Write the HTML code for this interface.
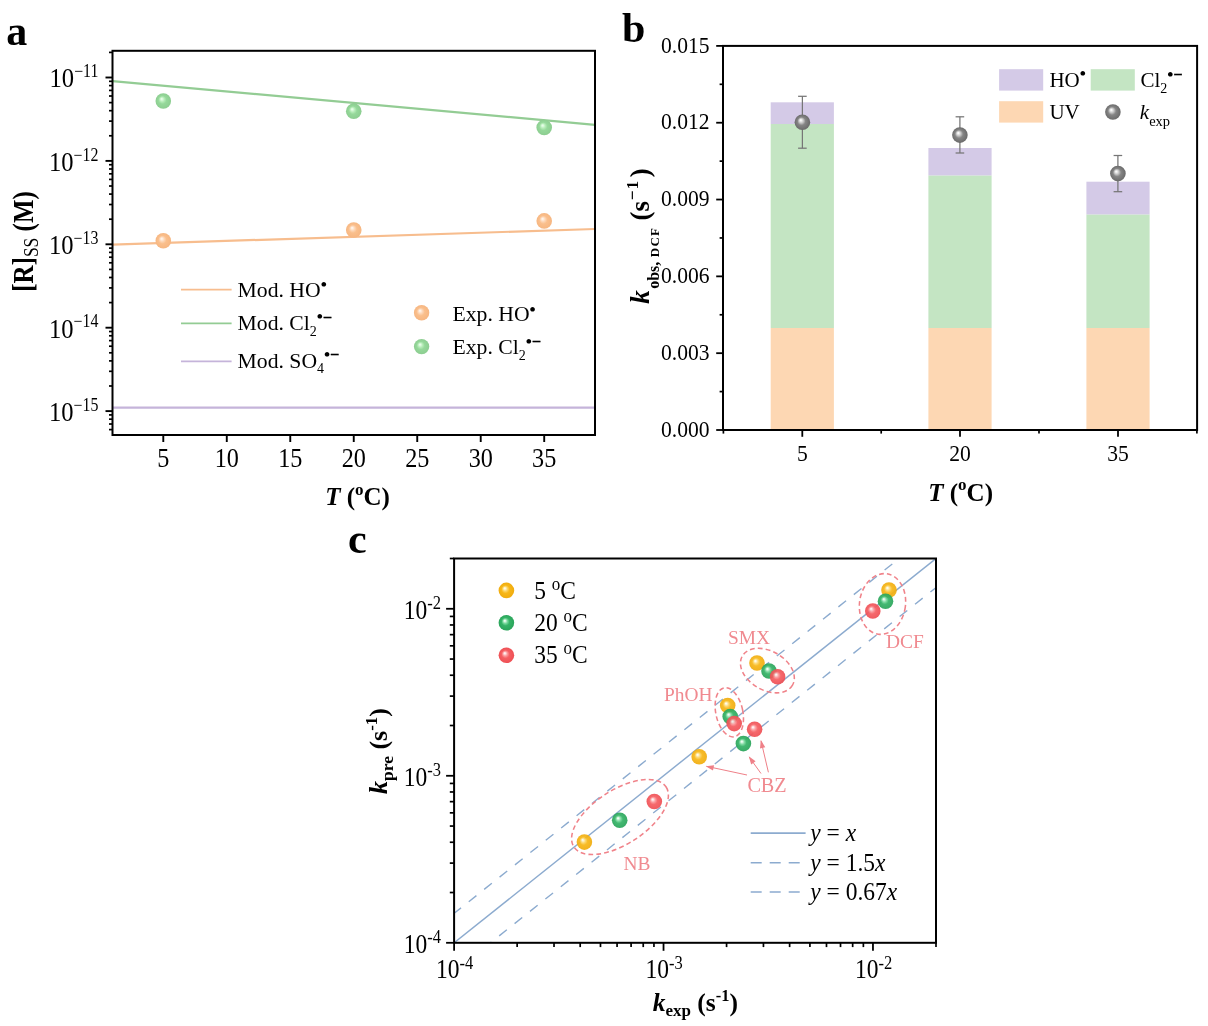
<!DOCTYPE html>
<html lang="en"><head><meta charset="utf-8"><title>Figure</title>
<style>html,body{margin:0;padding:0;background:#fff;}body{width:1208px;height:1026px;overflow:hidden;}svg{display:block;}text{font-family:'Liberation Serif', 'DejaVu Serif', serif;}</style>
</head><body>
<svg width="1208" height="1026" viewBox="0 0 1208 1026">
<rect x="0" y="0" width="1208" height="1026" fill="#ffffff"/>
<defs>
<radialGradient id="gA_o" cx="0.5" cy="0.5" r="0.5" fx="0.385" fy="0.355"><stop offset="0" stop-color="#fff4ea"/><stop offset="0.07" stop-color="#fff4ea"/><stop offset="0.30" stop-color="#fdd6b6"/><stop offset="0.52" stop-color="#fabf8c"/><stop offset="1" stop-color="#f6b681"/></radialGradient>
<radialGradient id="gA_g" cx="0.5" cy="0.5" r="0.5" fx="0.385" fy="0.355"><stop offset="0" stop-color="#e6fde8"/><stop offset="0.07" stop-color="#e6fde8"/><stop offset="0.30" stop-color="#b6ecb8"/><stop offset="0.52" stop-color="#95d89a"/><stop offset="1" stop-color="#8ccd90"/></radialGradient>
<radialGradient id="gB_k" cx="0.5" cy="0.5" r="0.5" fx="0.385" fy="0.355"><stop offset="0" stop-color="#fafafa"/><stop offset="0.07" stop-color="#fafafa"/><stop offset="0.30" stop-color="#c4c4c4"/><stop offset="0.52" stop-color="#858585"/><stop offset="1" stop-color="#6a6a6a"/></radialGradient>
<radialGradient id="gC_y" cx="0.5" cy="0.5" r="0.5" fx="0.385" fy="0.355"><stop offset="0" stop-color="#fffbe8"/><stop offset="0.07" stop-color="#fffbe8"/><stop offset="0.30" stop-color="#fcd566"/><stop offset="0.52" stop-color="#f7b718"/><stop offset="1" stop-color="#f0ac0e"/></radialGradient>
<radialGradient id="gC_g" cx="0.5" cy="0.5" r="0.5" fx="0.385" fy="0.355"><stop offset="0" stop-color="#effdf3"/><stop offset="0.07" stop-color="#effdf3"/><stop offset="0.30" stop-color="#78d89c"/><stop offset="0.52" stop-color="#35b367"/><stop offset="1" stop-color="#2aa45a"/></radialGradient>
<radialGradient id="gC_r" cx="0.5" cy="0.5" r="0.5" fx="0.385" fy="0.355"><stop offset="0" stop-color="#fff0f0"/><stop offset="0.07" stop-color="#fff0f0"/><stop offset="0.30" stop-color="#fb979a"/><stop offset="0.52" stop-color="#f55e62"/><stop offset="1" stop-color="#ee4f54"/></radialGradient>
<clipPath id="clipA"><rect x="112.5" y="50.8" width="483.2" height="384.2"/></clipPath>
<clipPath id="clipC"><rect x="454.1" y="558.5" width="481.9" height="384.3"/></clipPath>
<marker id="arr" viewBox="0 0 10 8" refX="9" refY="4" markerWidth="11" markerHeight="6.4" orient="auto" markerUnits="userSpaceOnUse"><path d="M0,0.6 L10,4 L0,7.4 Z" fill="#ef8088"/></marker>
</defs>
<g id="panelA">
<text x="6.3" y="44.9" font-size="42" text-anchor="start" font-weight="bold" font-style="normal" fill="#000" >a</text>
<g clip-path="url(#clipA)">
<line x1="112.5" y1="81.1" x2="595" y2="124.8" stroke="#93cc94" stroke-width="2.2" />
<line x1="112.5" y1="244.6" x2="595" y2="229" stroke="#f7bd8e" stroke-width="2.2" />
<line x1="112.5" y1="407.6" x2="595" y2="407.6" stroke="#c5b4da" stroke-width="2.2" />
</g>
<circle cx="163.29" cy="101" r="7.8" fill="url(#gA_g)"/>
<circle cx="353.75" cy="111.3" r="7.8" fill="url(#gA_g)"/>
<circle cx="544.21" cy="127.5" r="7.8" fill="url(#gA_g)"/>
<circle cx="163.29" cy="240.8" r="7.8" fill="url(#gA_o)"/>
<circle cx="353.75" cy="230" r="7.8" fill="url(#gA_o)"/>
<circle cx="544.21" cy="220.9" r="7.8" fill="url(#gA_o)"/>
<rect x="112.5" y="50.8" width="482.5" height="384.2" fill="none" stroke="#000" stroke-width="2"/>
<line x1="109" y1="429.6" x2="112.5" y2="429.6" stroke="#000" stroke-width="1.7" />
<line x1="109" y1="424.02" x2="112.5" y2="424.02" stroke="#000" stroke-width="1.7" />
<line x1="109" y1="419.18" x2="112.5" y2="419.18" stroke="#000" stroke-width="1.7" />
<line x1="109" y1="414.92" x2="112.5" y2="414.92" stroke="#000" stroke-width="1.7" />
<line x1="105.5" y1="411.1" x2="112.5" y2="411.1" stroke="#000" stroke-width="1.9" />
<line x1="109" y1="385.99" x2="112.5" y2="385.99" stroke="#000" stroke-width="1.7" />
<line x1="109" y1="371.31" x2="112.5" y2="371.31" stroke="#000" stroke-width="1.7" />
<line x1="109" y1="360.89" x2="112.5" y2="360.89" stroke="#000" stroke-width="1.7" />
<line x1="109" y1="352.81" x2="112.5" y2="352.81" stroke="#000" stroke-width="1.7" />
<line x1="109" y1="346.2" x2="112.5" y2="346.2" stroke="#000" stroke-width="1.7" />
<line x1="109" y1="340.62" x2="112.5" y2="340.62" stroke="#000" stroke-width="1.7" />
<line x1="109" y1="335.78" x2="112.5" y2="335.78" stroke="#000" stroke-width="1.7" />
<line x1="109" y1="331.52" x2="112.5" y2="331.52" stroke="#000" stroke-width="1.7" />
<line x1="105.5" y1="327.7" x2="112.5" y2="327.7" stroke="#000" stroke-width="1.9" />
<line x1="109" y1="302.59" x2="112.5" y2="302.59" stroke="#000" stroke-width="1.7" />
<line x1="109" y1="287.91" x2="112.5" y2="287.91" stroke="#000" stroke-width="1.7" />
<line x1="109" y1="277.49" x2="112.5" y2="277.49" stroke="#000" stroke-width="1.7" />
<line x1="109" y1="269.41" x2="112.5" y2="269.41" stroke="#000" stroke-width="1.7" />
<line x1="109" y1="262.8" x2="112.5" y2="262.8" stroke="#000" stroke-width="1.7" />
<line x1="109" y1="257.22" x2="112.5" y2="257.22" stroke="#000" stroke-width="1.7" />
<line x1="109" y1="252.38" x2="112.5" y2="252.38" stroke="#000" stroke-width="1.7" />
<line x1="109" y1="248.12" x2="112.5" y2="248.12" stroke="#000" stroke-width="1.7" />
<line x1="105.5" y1="244.3" x2="112.5" y2="244.3" stroke="#000" stroke-width="1.9" />
<line x1="109" y1="219.19" x2="112.5" y2="219.19" stroke="#000" stroke-width="1.7" />
<line x1="109" y1="204.51" x2="112.5" y2="204.51" stroke="#000" stroke-width="1.7" />
<line x1="109" y1="194.09" x2="112.5" y2="194.09" stroke="#000" stroke-width="1.7" />
<line x1="109" y1="186.01" x2="112.5" y2="186.01" stroke="#000" stroke-width="1.7" />
<line x1="109" y1="179.4" x2="112.5" y2="179.4" stroke="#000" stroke-width="1.7" />
<line x1="109" y1="173.82" x2="112.5" y2="173.82" stroke="#000" stroke-width="1.7" />
<line x1="109" y1="168.98" x2="112.5" y2="168.98" stroke="#000" stroke-width="1.7" />
<line x1="109" y1="164.72" x2="112.5" y2="164.72" stroke="#000" stroke-width="1.7" />
<line x1="105.5" y1="160.9" x2="112.5" y2="160.9" stroke="#000" stroke-width="1.9" />
<line x1="109" y1="135.79" x2="112.5" y2="135.79" stroke="#000" stroke-width="1.7" />
<line x1="109" y1="121.11" x2="112.5" y2="121.11" stroke="#000" stroke-width="1.7" />
<line x1="109" y1="110.69" x2="112.5" y2="110.69" stroke="#000" stroke-width="1.7" />
<line x1="109" y1="102.61" x2="112.5" y2="102.61" stroke="#000" stroke-width="1.7" />
<line x1="109" y1="96" x2="112.5" y2="96" stroke="#000" stroke-width="1.7" />
<line x1="109" y1="90.42" x2="112.5" y2="90.42" stroke="#000" stroke-width="1.7" />
<line x1="109" y1="85.58" x2="112.5" y2="85.58" stroke="#000" stroke-width="1.7" />
<line x1="109" y1="81.32" x2="112.5" y2="81.32" stroke="#000" stroke-width="1.7" />
<line x1="105.5" y1="77.5" x2="112.5" y2="77.5" stroke="#000" stroke-width="1.9" />
<line x1="109" y1="52.39" x2="112.5" y2="52.39" stroke="#000" stroke-width="1.7" />
<text transform="translate(98.4,420.9) scale(1.000,1.120)" font-size="24.6" text-anchor="end" font-weight="normal" font-style="normal" fill="#000" >10<tspan font-size="15.9" dy="-9" >&#8722;15</tspan></text>
<text transform="translate(98.4,337.5) scale(1.000,1.120)" font-size="24.6" text-anchor="end" font-weight="normal" font-style="normal" fill="#000" >10<tspan font-size="15.9" dy="-9" >&#8722;14</tspan></text>
<text transform="translate(98.4,254.1) scale(1.000,1.120)" font-size="24.6" text-anchor="end" font-weight="normal" font-style="normal" fill="#000" >10<tspan font-size="15.9" dy="-9" >&#8722;13</tspan></text>
<text transform="translate(98.4,170.7) scale(1.000,1.120)" font-size="24.6" text-anchor="end" font-weight="normal" font-style="normal" fill="#000" >10<tspan font-size="15.9" dy="-9" >&#8722;12</tspan></text>
<text transform="translate(98.4,87.3) scale(1.000,1.120)" font-size="24.6" text-anchor="end" font-weight="normal" font-style="normal" fill="#000" >10<tspan font-size="15.9" dy="-9" >&#8722;11</tspan></text>
<line x1="163.29" y1="435" x2="163.29" y2="442" stroke="#000" stroke-width="1.9" />
<text transform="translate(163.29,467.2) scale(1.000,1.140)" font-size="24.2" text-anchor="middle" font-weight="normal" font-style="normal" fill="#000" >5</text>
<line x1="226.78" y1="435" x2="226.78" y2="442" stroke="#000" stroke-width="1.9" />
<text transform="translate(226.78,467.2) scale(1.000,1.140)" font-size="24.2" text-anchor="middle" font-weight="normal" font-style="normal" fill="#000" >10</text>
<line x1="290.26" y1="435" x2="290.26" y2="442" stroke="#000" stroke-width="1.9" />
<text transform="translate(290.26,467.2) scale(1.000,1.140)" font-size="24.2" text-anchor="middle" font-weight="normal" font-style="normal" fill="#000" >15</text>
<line x1="353.75" y1="435" x2="353.75" y2="442" stroke="#000" stroke-width="1.9" />
<text transform="translate(353.75,467.2) scale(1.000,1.140)" font-size="24.2" text-anchor="middle" font-weight="normal" font-style="normal" fill="#000" >20</text>
<line x1="417.24" y1="435" x2="417.24" y2="442" stroke="#000" stroke-width="1.9" />
<text transform="translate(417.24,467.2) scale(1.000,1.140)" font-size="24.2" text-anchor="middle" font-weight="normal" font-style="normal" fill="#000" >25</text>
<line x1="480.72" y1="435" x2="480.72" y2="442" stroke="#000" stroke-width="1.9" />
<text transform="translate(480.72,467.2) scale(1.000,1.140)" font-size="24.2" text-anchor="middle" font-weight="normal" font-style="normal" fill="#000" >30</text>
<line x1="544.21" y1="435" x2="544.21" y2="442" stroke="#000" stroke-width="1.9" />
<text transform="translate(544.21,467.2) scale(1.000,1.140)" font-size="24.2" text-anchor="middle" font-weight="normal" font-style="normal" fill="#000" >35</text>
<text x="357.5" y="505.3" font-size="25" text-anchor="middle" font-weight="bold" font-style="normal" fill="#000" ><tspan font-style="italic">T</tspan> (<tspan font-size="17" dy="-10.5">o</tspan><tspan dy="10.5">C)</tspan></text>
<text transform="translate(33,241.5) rotate(-90) scale(1,1.170)" font-size="25" text-anchor="middle" font-weight="bold">[R]<tspan font-size="17.5" dy="4" font-weight="normal">SS</tspan><tspan dy="-4">&#8203;</tspan> (M)</text>
<line x1="181" y1="289.7" x2="231.6" y2="289.7" stroke="#f7bd8e" stroke-width="1.7" />
<line x1="181" y1="323.4" x2="231.6" y2="323.4" stroke="#93cc94" stroke-width="1.7" />
<line x1="181" y1="361.3" x2="231.6" y2="361.3" stroke="#c5b4da" stroke-width="1.7" />
<text x="237.5" y="297" font-size="21.7" text-anchor="start" font-weight="normal" font-style="normal" fill="#000" >Mod. HO<tspan font-size="17.5" dy="-7.4" font-weight="bold">&#8226;</tspan><tspan dy="7.4">&#8203;</tspan></text>
<text x="237.5" y="330.2" font-size="21.7" text-anchor="start" font-weight="normal" font-style="normal" fill="#000" >Mod. Cl<tspan font-size="14" dy="5.5" >2</tspan><tspan dy="-5.5">&#8203;</tspan><tspan font-size="17.5" dy="-7.8" font-weight="bold">&#8226;</tspan><tspan font-size="16.5" font-weight="bold" dx="-0.2" dy="0.4" stroke="#000" stroke-width="0.3">&#8722;</tspan><tspan dy="7.4">&#8203;</tspan></text>
<text x="237.5" y="367.6" font-size="21.7" text-anchor="start" font-weight="normal" font-style="normal" fill="#000" >Mod. SO<tspan font-size="14" dy="5.5" >4</tspan><tspan dy="-5.5">&#8203;</tspan><tspan font-size="17.5" dy="-7.8" font-weight="bold">&#8226;</tspan><tspan font-size="16.5" font-weight="bold" dx="-0.2" dy="0.4" stroke="#000" stroke-width="0.3">&#8722;</tspan><tspan dy="7.4">&#8203;</tspan></text>
<circle cx="421.6" cy="312.8" r="7.7" fill="url(#gA_o)"/>
<circle cx="421.6" cy="346.6" r="7.7" fill="url(#gA_g)"/>
<text x="452.5" y="321.3" font-size="21.7" text-anchor="start" font-weight="normal" font-style="normal" fill="#000" >Exp. HO<tspan font-size="17.5" dy="-6.6" font-weight="bold">&#8226;</tspan><tspan dy="6.6">&#8203;</tspan></text>
<text x="452.5" y="354.4" font-size="21.7" text-anchor="start" font-weight="normal" font-style="normal" fill="#000" >Exp. Cl<tspan font-size="14" dy="5.5" >2</tspan><tspan dy="-5.5">&#8203;</tspan><tspan font-size="17.5" dy="-7.8" font-weight="bold">&#8226;</tspan><tspan font-size="16.5" font-weight="bold" dx="-0.2" dy="0.4" stroke="#000" stroke-width="0.3">&#8722;</tspan><tspan dy="7.4">&#8203;</tspan></text>
</g>
<g id="panelB">
<text x="622" y="42" font-size="42" text-anchor="start" font-weight="bold" font-style="normal" fill="#000" >b</text>
<rect x="770.7" y="328" width="63.2" height="102" fill="#fdd7b3"/>
<rect x="770.7" y="124" width="63.2" height="204" fill="#c4e5c3"/>
<rect x="770.7" y="102.3" width="63.2" height="21.7" fill="#d4cae7"/>
<rect x="928.4" y="328" width="63.2" height="102" fill="#fdd7b3"/>
<rect x="928.4" y="175.4" width="63.2" height="152.6" fill="#c4e5c3"/>
<rect x="928.4" y="148" width="63.2" height="27.4" fill="#d4cae7"/>
<rect x="1086.4" y="328" width="63.2" height="102" fill="#fdd7b3"/>
<rect x="1086.4" y="214.4" width="63.2" height="113.6" fill="#c4e5c3"/>
<rect x="1086.4" y="181.7" width="63.2" height="32.7" fill="#d4cae7"/>
<line x1="802.4" y1="96.3" x2="802.4" y2="148.2" stroke="#767676" stroke-width="1.25" />
<line x1="798.1" y1="96.3" x2="806.7" y2="96.3" stroke="#767676" stroke-width="1.25" />
<line x1="798.1" y1="148.2" x2="806.7" y2="148.2" stroke="#767676" stroke-width="1.25" />
<circle cx="802.4" cy="122.3" r="7.8" fill="url(#gB_k)"/>
<line x1="959.9" y1="116.8" x2="959.9" y2="153" stroke="#767676" stroke-width="1.25" />
<line x1="955.6" y1="116.8" x2="964.2" y2="116.8" stroke="#767676" stroke-width="1.25" />
<line x1="955.6" y1="153" x2="964.2" y2="153" stroke="#767676" stroke-width="1.25" />
<circle cx="959.9" cy="135.1" r="7.8" fill="url(#gB_k)"/>
<line x1="1117.9" y1="155.5" x2="1117.9" y2="191.7" stroke="#767676" stroke-width="1.25" />
<line x1="1113.6" y1="155.5" x2="1122.2" y2="155.5" stroke="#767676" stroke-width="1.25" />
<line x1="1113.6" y1="191.7" x2="1122.2" y2="191.7" stroke="#767676" stroke-width="1.25" />
<circle cx="1117.9" cy="173.6" r="7.8" fill="url(#gB_k)"/>
<rect x="723" y="45.9" width="474.1" height="384.1" fill="none" stroke="#000" stroke-width="2"/>
<line x1="716.2" y1="430" x2="723" y2="430" stroke="#000" stroke-width="1.8" />
<text transform="translate(709.6,436.6) scale(1.000,1.070)" font-size="21.6" text-anchor="end" font-weight="normal" font-style="normal" fill="#000" >0.000</text>
<line x1="719.6" y1="391.59" x2="723" y2="391.59" stroke="#000" stroke-width="1.7" />
<line x1="716.2" y1="353.18" x2="723" y2="353.18" stroke="#000" stroke-width="1.8" />
<text transform="translate(709.6,359.78) scale(1.000,1.070)" font-size="21.6" text-anchor="end" font-weight="normal" font-style="normal" fill="#000" >0.003</text>
<line x1="719.6" y1="314.77" x2="723" y2="314.77" stroke="#000" stroke-width="1.7" />
<line x1="716.2" y1="276.36" x2="723" y2="276.36" stroke="#000" stroke-width="1.8" />
<text transform="translate(709.6,282.96) scale(1.000,1.070)" font-size="21.6" text-anchor="end" font-weight="normal" font-style="normal" fill="#000" >0.006</text>
<line x1="719.6" y1="237.95" x2="723" y2="237.95" stroke="#000" stroke-width="1.7" />
<line x1="716.2" y1="199.54" x2="723" y2="199.54" stroke="#000" stroke-width="1.8" />
<text transform="translate(709.6,206.14) scale(1.000,1.070)" font-size="21.6" text-anchor="end" font-weight="normal" font-style="normal" fill="#000" >0.009</text>
<line x1="719.6" y1="161.13" x2="723" y2="161.13" stroke="#000" stroke-width="1.7" />
<line x1="716.2" y1="122.72" x2="723" y2="122.72" stroke="#000" stroke-width="1.8" />
<text transform="translate(709.6,129.32) scale(1.000,1.070)" font-size="21.6" text-anchor="end" font-weight="normal" font-style="normal" fill="#000" >0.012</text>
<line x1="719.6" y1="84.31" x2="723" y2="84.31" stroke="#000" stroke-width="1.7" />
<line x1="716.2" y1="45.9" x2="723" y2="45.9" stroke="#000" stroke-width="1.8" />
<text transform="translate(709.6,52.5) scale(1.000,1.070)" font-size="21.6" text-anchor="end" font-weight="normal" font-style="normal" fill="#000" >0.015</text>
<line x1="802.3" y1="430" x2="802.3" y2="436.8" stroke="#000" stroke-width="1.8" />
<text transform="translate(802.3,461.4) scale(1.000,1.070)" font-size="21.6" text-anchor="middle" font-weight="normal" font-style="normal" fill="#000" >5</text>
<line x1="960" y1="430" x2="960" y2="436.8" stroke="#000" stroke-width="1.8" />
<text transform="translate(960,461.4) scale(1.000,1.070)" font-size="21.6" text-anchor="middle" font-weight="normal" font-style="normal" fill="#000" >20</text>
<line x1="1118" y1="430" x2="1118" y2="436.8" stroke="#000" stroke-width="1.8" />
<text transform="translate(1118,461.4) scale(1.000,1.070)" font-size="21.6" text-anchor="middle" font-weight="normal" font-style="normal" fill="#000" >35</text>
<line x1="723.4" y1="430" x2="723.4" y2="433.6" stroke="#000" stroke-width="1.7" />
<line x1="881.2" y1="430" x2="881.2" y2="433.6" stroke="#000" stroke-width="1.7" />
<line x1="1039" y1="430" x2="1039" y2="433.6" stroke="#000" stroke-width="1.7" />
<line x1="1196.9" y1="430" x2="1196.9" y2="433.6" stroke="#000" stroke-width="1.7" />
<text x="960.6" y="500.6" font-size="25" text-anchor="middle" font-weight="bold" font-style="normal" fill="#000" ><tspan font-style="italic">T</tspan> (<tspan font-size="17" dy="-10.5">o</tspan><tspan dy="10.5">C)</tspan></text>
<text transform="translate(649.2,303.8) rotate(-90)" font-weight="bold" font-size="27"><tspan x="0" font-style="italic">k</tspan><tspan x="15.0" dy="9.6" font-size="16">obs,</tspan><tspan x="46.6" font-size="13" letter-spacing="1.2">DCF</tspan><tspan x="83.4" dy="-9.6">(s</tspan><tspan x="103.6" dy="-11.5" font-size="17.5" letter-spacing="0.8">&#8722;1</tspan><tspan x="126.6" dy="11.5">)</tspan></text>
<rect x="999.1" y="69.2" width="44.1" height="21.4" fill="#d4cae7"/>
<rect x="1090.7" y="69.2" width="44.1" height="21.4" fill="#c4e5c3"/>
<rect x="999.1" y="101.2" width="44.1" height="21.4" fill="#fdd7b3"/>
<text x="1049.4" y="87.3" font-size="21" text-anchor="start" font-weight="normal" font-style="normal" fill="#000" >HO<tspan font-size="17.5" dy="-8.6" font-weight="bold">&#8226;</tspan><tspan dy="8.6">&#8203;</tspan></text>
<text x="1140.5" y="87.3" font-size="21" text-anchor="start" font-weight="normal" font-style="normal" fill="#000" >Cl<tspan font-size="14" dy="5.5" >2</tspan><tspan dy="-5.5">&#8203;</tspan><tspan font-size="17.5" dy="-7.4" font-weight="bold">&#8226;</tspan><tspan font-size="16.5" font-weight="bold" dx="-0.2" dy="0.4" stroke="#000" stroke-width="0.3">&#8722;</tspan><tspan dy="7">&#8203;</tspan></text>
<text x="1049.4" y="118.8" font-size="21" text-anchor="start" font-weight="normal" font-style="normal" fill="#000" >UV</text>
<circle cx="1112.9" cy="112" r="7.8" fill="url(#gB_k)"/>
<text x="1139.8" y="118.8" font-size="21" text-anchor="start" font-weight="normal" font-style="normal" fill="#000" ><tspan font-style="italic">k</tspan><tspan font-size="14.5" dy="7" >exp</tspan><tspan dy="-7">&#8203;</tspan></text>
</g>
<g id="panelC">
<text x="348" y="553" font-size="42" text-anchor="start" font-weight="bold" font-style="normal" fill="#000" >c</text>
<g clip-path="url(#clipC)">
<line x1="454.1" y1="942.8" x2="936" y2="558.5" stroke="#8cabcf" stroke-width="1.45" />
<line x1="394.1" y1="961.24" x2="996" y2="481.24" stroke="#8cabcf" stroke-width="1.4" stroke-dasharray="9.8 9.9" stroke-dashoffset="3"/>
<line x1="394.1" y1="1019.7" x2="996" y2="539.7" stroke="#8cabcf" stroke-width="1.4" stroke-dasharray="9.8 9.9" stroke-dashoffset="3.5"/>
</g>
<circle cx="584.4" cy="842.1" r="7.8" fill="url(#gC_y)" opacity="0.93"/>
<circle cx="699.2" cy="756.8" r="7.8" fill="url(#gC_y)" opacity="0.93"/>
<circle cx="727.7" cy="705.6" r="7.8" fill="url(#gC_y)" opacity="0.93"/>
<circle cx="757" cy="663" r="7.8" fill="url(#gC_y)" opacity="0.93"/>
<circle cx="889" cy="590" r="7.8" fill="url(#gC_y)" opacity="0.93"/>
<circle cx="619.7" cy="820.3" r="7.8" fill="url(#gC_g)" opacity="0.93"/>
<circle cx="743.4" cy="743.6" r="7.8" fill="url(#gC_g)" opacity="0.93"/>
<circle cx="730.2" cy="716.6" r="7.8" fill="url(#gC_g)" opacity="0.93"/>
<circle cx="769" cy="671" r="7.8" fill="url(#gC_g)" opacity="0.93"/>
<circle cx="885.5" cy="601.3" r="7.8" fill="url(#gC_g)" opacity="0.93"/>
<circle cx="654.3" cy="801.5" r="7.8" fill="url(#gC_r)" opacity="0.93"/>
<circle cx="754.6" cy="729.3" r="7.8" fill="url(#gC_r)" opacity="0.93"/>
<circle cx="734.2" cy="723.6" r="7.8" fill="url(#gC_r)" opacity="0.93"/>
<circle cx="777.6" cy="676.7" r="7.8" fill="url(#gC_r)" opacity="0.93"/>
<circle cx="872.8" cy="611" r="7.8" fill="url(#gC_r)" opacity="0.93"/>
<ellipse cx="620" cy="817" rx="55" ry="27" transform="rotate(-33 620 817)" fill="none" stroke="#f0838a" stroke-width="1.55" stroke-dasharray="4.8 3.1"/>
<ellipse cx="729.3" cy="712.3" rx="13.5" ry="25" transform="rotate(-12 729.3 712.3)" fill="none" stroke="#f0838a" stroke-width="1.55" stroke-dasharray="4.8 3.1"/>
<ellipse cx="767.4" cy="670.6" rx="29" ry="19.5" transform="rotate(30 767.4 670.6)" fill="none" stroke="#f0838a" stroke-width="1.55" stroke-dasharray="4.8 3.1"/>
<ellipse cx="882.5" cy="604" rx="23" ry="30.5" transform="rotate(8 882.5 604)" fill="none" stroke="#f0838a" stroke-width="1.55" stroke-dasharray="4.8 3.1"/>
<text x="623.6" y="870" font-size="19.4" text-anchor="start" font-weight="normal" font-style="normal" fill="#f08a90" >NB</text>
<text x="747.4" y="791.7" font-size="20.2" text-anchor="start" font-weight="normal" font-style="normal" fill="#f08a90" >CBZ</text>
<text x="664" y="700.6" font-size="19.4" text-anchor="start" font-weight="normal" font-style="normal" fill="#f08a90" >PhOH</text>
<text x="728" y="643.7" font-size="19.4" text-anchor="start" font-weight="normal" font-style="normal" fill="#f08a90" >SMX</text>
<text x="886" y="648.3" font-size="19.4" text-anchor="start" font-weight="normal" font-style="normal" fill="#f08a90" >DCF</text>
<line x1="747" y1="775" x2="706.5" y2="766.3" stroke="#ef8088" stroke-width="1" marker-end="url(#arr)"/>
<line x1="761" y1="773.5" x2="749.2" y2="757" stroke="#ef8088" stroke-width="1" marker-end="url(#arr)"/>
<line x1="768.4" y1="772.3" x2="761" y2="740.8" stroke="#ef8088" stroke-width="1" marker-end="url(#arr)"/>
<rect x="454.1" y="558.5" width="481.9" height="384.3" fill="none" stroke="#000" stroke-width="2"/>
<line x1="446.1" y1="942.8" x2="454.1" y2="942.8" stroke="#000" stroke-width="1.8" />
<line x1="454.1" y1="942.8" x2="454.1" y2="950.8" stroke="#000" stroke-width="1.8" />
<line x1="449.8" y1="892.52" x2="454.1" y2="892.52" stroke="#000" stroke-width="1.7" />
<line x1="517.14" y1="942.8" x2="517.14" y2="947.1" stroke="#000" stroke-width="1.7" />
<line x1="449.8" y1="863.11" x2="454.1" y2="863.11" stroke="#000" stroke-width="1.7" />
<line x1="554.02" y1="942.8" x2="554.02" y2="947.1" stroke="#000" stroke-width="1.7" />
<line x1="449.8" y1="842.25" x2="454.1" y2="842.25" stroke="#000" stroke-width="1.7" />
<line x1="580.19" y1="942.8" x2="580.19" y2="947.1" stroke="#000" stroke-width="1.7" />
<line x1="449.8" y1="826.06" x2="454.1" y2="826.06" stroke="#000" stroke-width="1.7" />
<line x1="600.48" y1="942.8" x2="600.48" y2="947.1" stroke="#000" stroke-width="1.7" />
<line x1="449.8" y1="812.84" x2="454.1" y2="812.84" stroke="#000" stroke-width="1.7" />
<line x1="617.07" y1="942.8" x2="617.07" y2="947.1" stroke="#000" stroke-width="1.7" />
<line x1="449.8" y1="801.66" x2="454.1" y2="801.66" stroke="#000" stroke-width="1.7" />
<line x1="631.09" y1="942.8" x2="631.09" y2="947.1" stroke="#000" stroke-width="1.7" />
<line x1="449.8" y1="791.97" x2="454.1" y2="791.97" stroke="#000" stroke-width="1.7" />
<line x1="643.23" y1="942.8" x2="643.23" y2="947.1" stroke="#000" stroke-width="1.7" />
<line x1="449.8" y1="783.43" x2="454.1" y2="783.43" stroke="#000" stroke-width="1.7" />
<line x1="653.95" y1="942.8" x2="653.95" y2="947.1" stroke="#000" stroke-width="1.7" />
<line x1="446.1" y1="775.79" x2="454.1" y2="775.79" stroke="#000" stroke-width="1.8" />
<line x1="663.53" y1="942.8" x2="663.53" y2="950.8" stroke="#000" stroke-width="1.8" />
<line x1="449.8" y1="725.51" x2="454.1" y2="725.51" stroke="#000" stroke-width="1.7" />
<line x1="726.57" y1="942.8" x2="726.57" y2="947.1" stroke="#000" stroke-width="1.7" />
<line x1="449.8" y1="696.1" x2="454.1" y2="696.1" stroke="#000" stroke-width="1.7" />
<line x1="763.45" y1="942.8" x2="763.45" y2="947.1" stroke="#000" stroke-width="1.7" />
<line x1="449.8" y1="675.24" x2="454.1" y2="675.24" stroke="#000" stroke-width="1.7" />
<line x1="789.62" y1="942.8" x2="789.62" y2="947.1" stroke="#000" stroke-width="1.7" />
<line x1="449.8" y1="659.05" x2="454.1" y2="659.05" stroke="#000" stroke-width="1.7" />
<line x1="809.91" y1="942.8" x2="809.91" y2="947.1" stroke="#000" stroke-width="1.7" />
<line x1="449.8" y1="645.83" x2="454.1" y2="645.83" stroke="#000" stroke-width="1.7" />
<line x1="826.49" y1="942.8" x2="826.49" y2="947.1" stroke="#000" stroke-width="1.7" />
<line x1="449.8" y1="634.65" x2="454.1" y2="634.65" stroke="#000" stroke-width="1.7" />
<line x1="840.52" y1="942.8" x2="840.52" y2="947.1" stroke="#000" stroke-width="1.7" />
<line x1="449.8" y1="624.96" x2="454.1" y2="624.96" stroke="#000" stroke-width="1.7" />
<line x1="852.66" y1="942.8" x2="852.66" y2="947.1" stroke="#000" stroke-width="1.7" />
<line x1="449.8" y1="616.42" x2="454.1" y2="616.42" stroke="#000" stroke-width="1.7" />
<line x1="863.37" y1="942.8" x2="863.37" y2="947.1" stroke="#000" stroke-width="1.7" />
<line x1="446.1" y1="608.78" x2="454.1" y2="608.78" stroke="#000" stroke-width="1.8" />
<line x1="872.96" y1="942.8" x2="872.96" y2="950.8" stroke="#000" stroke-width="1.8" />
<line x1="449.8" y1="558.5" x2="454.1" y2="558.5" stroke="#000" stroke-width="1.7" />
<line x1="936" y1="942.8" x2="936" y2="947.1" stroke="#000" stroke-width="1.7" />
<text transform="translate(441,952.8) scale(1.000,1.170)" font-size="23.5" text-anchor="end" font-weight="normal" font-style="normal" fill="#000" >10<tspan font-size="16.5" dy="-8" >-4</tspan></text>
<text transform="translate(454.7,978.4) scale(1.000,1.170)" font-size="23.5" text-anchor="middle" font-weight="normal" font-style="normal" fill="#000" >10<tspan font-size="16.5" dy="-8" >-4</tspan></text>
<text transform="translate(441,785.79) scale(1.000,1.170)" font-size="23.5" text-anchor="end" font-weight="normal" font-style="normal" fill="#000" >10<tspan font-size="16.5" dy="-8" >-3</tspan></text>
<text transform="translate(664.13,978.4) scale(1.000,1.170)" font-size="23.5" text-anchor="middle" font-weight="normal" font-style="normal" fill="#000" >10<tspan font-size="16.5" dy="-8" >-3</tspan></text>
<text transform="translate(441,618.78) scale(1.000,1.170)" font-size="23.5" text-anchor="end" font-weight="normal" font-style="normal" fill="#000" >10<tspan font-size="16.5" dy="-8" >-2</tspan></text>
<text transform="translate(873.56,978.4) scale(1.000,1.170)" font-size="23.5" text-anchor="middle" font-weight="normal" font-style="normal" fill="#000" >10<tspan font-size="16.5" dy="-8" >-2</tspan></text>
<text x="695.3" y="1010.6" font-size="25.5" text-anchor="middle" font-weight="bold" font-style="normal" fill="#000" ><tspan font-style="italic">k</tspan><tspan font-size="17" dy="5" >exp</tspan><tspan dy="-5">&#8203;</tspan> (s<tspan font-size="16.5" dy="-9.5" >-1</tspan><tspan dy="9.5">&#8203;</tspan>)</text>
<text transform="translate(387.3,751) rotate(-90) scale(1,1.000)" font-size="26" text-anchor="middle" font-weight="bold"><tspan font-style="italic">k</tspan><tspan font-size="17.5" dy="5.5" >pre</tspan><tspan dy="-5.5">&#8203;</tspan> (s<tspan font-size="17" dy="-10" >-1</tspan><tspan dy="10">&#8203;</tspan>)</text>
<circle cx="506.4" cy="590.4" r="7.8" fill="url(#gC_y)"/>
<text transform="translate(534.2,598.6) scale(1.000,1.100)" font-size="23.5" text-anchor="start" font-weight="normal" font-style="normal" fill="#000" >5 <tspan font-size="17" dy="-7.6" >o</tspan><tspan dy="7.6">&#8203;</tspan>C</text>
<circle cx="506.4" cy="622.8" r="7.8" fill="url(#gC_g)"/>
<text transform="translate(534.2,630.8) scale(1.000,1.100)" font-size="23.5" text-anchor="start" font-weight="normal" font-style="normal" fill="#000" >20 <tspan font-size="17" dy="-7.6" >o</tspan><tspan dy="7.6">&#8203;</tspan>C</text>
<circle cx="506.4" cy="655.3" r="7.8" fill="url(#gC_r)"/>
<text transform="translate(534.2,662.7) scale(1.000,1.100)" font-size="23.5" text-anchor="start" font-weight="normal" font-style="normal" fill="#000" >35 <tspan font-size="17" dy="-7.6" >o</tspan><tspan dy="7.6">&#8203;</tspan>C</text>
<line x1="750.7" y1="833.1" x2="805.6" y2="833.1" stroke="#8cabcf" stroke-width="1.6" />
<line x1="750.7" y1="862.8" x2="805.6" y2="862.8" stroke="#8cabcf" stroke-width="1.5" stroke-dasharray="11 8"/>
<line x1="750.7" y1="891.9" x2="805.6" y2="891.9" stroke="#8cabcf" stroke-width="1.5" stroke-dasharray="11 8"/>
<text transform="translate(810.3,841) scale(1.000,1.100)" font-size="23.5" text-anchor="start" font-weight="normal" font-style="normal" fill="#000" ><tspan font-style="italic">y</tspan> = <tspan font-style="italic">x</tspan></text>
<text transform="translate(810.3,871) scale(1.000,1.100)" font-size="23.5" text-anchor="start" font-weight="normal" font-style="normal" fill="#000" ><tspan font-style="italic">y</tspan> = 1.5<tspan font-style="italic">x</tspan></text>
<text transform="translate(810.3,900.1) scale(1.000,1.100)" font-size="23.5" text-anchor="start" font-weight="normal" font-style="normal" fill="#000" ><tspan font-style="italic">y</tspan> = 0.67<tspan font-style="italic">x</tspan></text>
</g>
</svg>
</body></html>
